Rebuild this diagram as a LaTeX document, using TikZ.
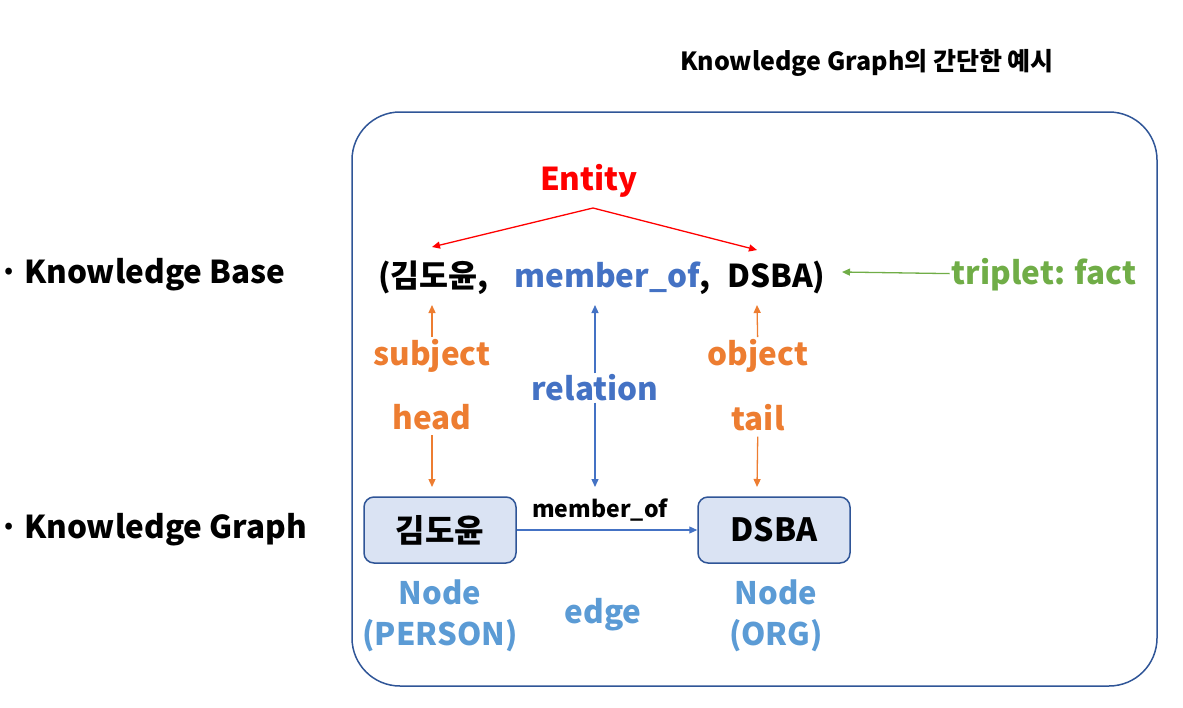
\documentclass[tikz,border=0pt]{standalone}
\usepackage{fontspec}
\setmainfont{Noto Sans CJK KR}
\usetikzlibrary{arrows.meta}
\definecolor{frameblue}{HTML}{2F5597}
\definecolor{relblue}{HTML}{4472C4}
\definecolor{nodeblue}{HTML}{5B9BD5}
\definecolor{boxfill}{HTML}{DAE3F3}
\definecolor{entred}{HTML}{FF0000}
\definecolor{roleorange}{HTML}{ED7D31}
\definecolor{factgreen}{HTML}{70AD47}
\tikzset{
  txt/.style={font=\bfseries\fontsize{31.5}{36}\selectfont, inner sep=2pt},
  small/.style={font=\bfseries\fontsize{23}{27}\selectfont, inner sep=1pt},
  title/.style={font=\bfseries\fontsize{25}{30}\selectfont, inner sep=0pt},
  kgbox/.style={draw=frameblue, fill=boxfill, line width=1.5pt, rounded corners=10pt,
    minimum width=152pt, minimum height=66pt, inner sep=0pt},
  tip/.style={-{Triangle[length=8pt,width=7pt]}, line width=1.3pt}
}
\begin{document}
\begin{tikzpicture}[x=1pt,y=-1pt]
    \useasboundingbox (0,0) rectangle (1183,707);
    \draw[frameblue, line width=1.5pt, rounded corners=48pt] (352,112) rectangle (1157,686);
    \node[title] (title) at (867,63) {Knowledge Graph의 간단한 예시};

    \node[txt, anchor=base, inner sep=0pt] (kbDot) at (9,283) {\makebox[0pt]{·}};
    \node[txt, anchor=base west, inner sep=0pt] (kbLab) at (24,283) {Knowledge Base};
    \node[txt, anchor=base, inner sep=0pt] (kgDot) at (9,538) {\makebox[0pt]{·}};
    \node[txt, anchor=base west, inner sep=0pt] (kgLab) at (24,538) {Knowledge Graph};

    % triplet
    \node[txt, anchor=base west, inner sep=0pt] (kimT) at (378,287) {(김도윤,};
    \node[txt, anchor=base west, inner sep=0pt, text=relblue] (relT) at (514,287) {member\_of};
    \node[txt, anchor=base west, inner sep=0pt] (c2) at (relT.base east) {,};
    \node[txt, anchor=base west, inner sep=0pt] (dsbaT) at (727,287) {DSBA)};
    \node[txt, text=factgreen] (fact) at (1044,275) {triplet: fact};
    \draw[tip, factgreen] (fact) -- (842,272);

    % entity
    \node[txt, text=entred] (ent) at (589,181) {Entity};
    \coordinate (fork) at (593,208);
    \draw[tip, entred] (fork) -- (432,247);
    \draw[tip, entred] (fork) -- (757,250);

    % roles
    \node[txt, text=roleorange] (subj) at (432,356) {subject};
    \node[txt, text=roleorange, inner sep=5pt] (head) at (432,417) {head};
    \node[txt, text=roleorange] (obj) at (758,356) {object};
    \node[txt, text=roleorange, inner sep=5pt] (tail) at (758,418) {tail};
    \node[txt, text=relblue, inner sep=1pt] (rel) at (595,388) {relation};

    % graph
    \node[kgbox, font=\bfseries\fontsize{32}{36}\selectfont] (kimBox) at (440,530) {김도윤};
    \node[kgbox, font=\bfseries\fontsize{32}{36}\selectfont] (dsbaBox) at (774,530) {DSBA};
    \draw[tip, relblue, line width=1.1pt] (kimBox) -- (dsbaBox);
    \node[small] (edgeLab) at (600,510) {member\_of};

    \draw[tip, roleorange] (subj) -- (432,305);
    \draw[tip, roleorange] (head) -- (432,487);
    \draw[tip, roleorange] (obj) -- (757,305);
    \draw[tip, roleorange] (tail) -- (757,487);
    \draw[tip, relblue] (rel) -- (595,305);
    \draw[tip, relblue] (rel) -- (595,487);

    \node[txt, text=nodeblue, align=center, font=\bfseries\fontsize{31}{41}\selectfont] (personLab) at (440,616) {Node\\(PERSON)};
    \node[txt, text=nodeblue] (edgeName) at (603,615) {edge};
    \node[txt, text=nodeblue, align=center, font=\bfseries\fontsize{31}{41}\selectfont] (orgLab) at (776,616) {Node\\(ORG)};
\end{tikzpicture}
\end{document}
